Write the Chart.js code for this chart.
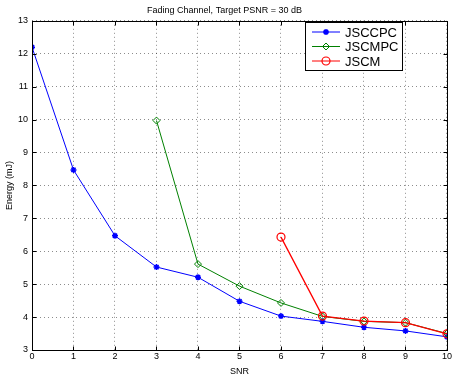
<!DOCTYPE html>
<html>
<head>
<meta charset="utf-8">
<script src="https://cdn.jsdelivr.net/npm/chart.js@4/dist/chart.umd.min.js"></script>
<style>
	body { margin: 0; background: #fff; }
	#wrap { width: 453px; height: 377px; position: relative; }
</style>
</head>
<body>
<div id="wrap"><canvas id="c"></canvas></div>
<script>
const snr = [0, 1, 2, 3, 4, 5, 6, 7, 8, 9, 10];
const jsccpc = [12.2, 8.47, 6.47, 5.52, 5.21, 4.48, 4.03, 3.87, 3.69, 3.58, 3.4];
const jscmpc = [null, null, null, 9.97, 5.61, 4.94, 4.43, 4.02, 3.87, 3.83, 3.5];
const jscm = [null, null, null, null, null, null, 6.43, 4.03, 3.88, 3.83, 3.49];

const font = 'Liberation Sans, Arial, sans-serif';

function pts(vals) {
	return snr.map((x, i) => ({ x: x, y: vals[i] }));
}

// frame round the plot area with small inward ticks, like a MATLAB axes box
const boxPlugin = {
	id: 'box',
	afterDraw(chart) {
		const a = chart.chartArea;
		const ctx = chart.ctx;
		const l = Math.round(a.left) + 0.5, r = Math.round(a.right) + 0.5;
		const t = Math.round(a.top) + 0.5, b = Math.round(a.bottom) + 0.5;
		ctx.save();
		ctx.strokeStyle = '#000';
		ctx.lineWidth = 1;
		ctx.strokeRect(l, t, r - l, b - t);
		ctx.beginPath();
		chart.scales.x.ticks.forEach(tk => {
			const px = Math.round(chart.scales.x.getPixelForValue(tk.value)) + 0.5;
			ctx.moveTo(px, b); ctx.lineTo(px, b - 4);
			ctx.moveTo(px, t); ctx.lineTo(px, t + 4);
		});
		chart.scales.y.ticks.forEach(tk => {
			const py = Math.round(chart.scales.y.getPixelForValue(tk.value)) + 0.5;
			ctx.moveTo(l, py); ctx.lineTo(l + 4, py);
			ctx.moveTo(r, py); ctx.lineTo(r - 4, py);
		});
		ctx.stroke();
		ctx.restore();
	}
};

// legend box in the upper right corner of the plot
const legendBox = {
	id: 'legendBox',
	afterDraw(chart) {
		const ctx = chart.ctx;
		const x0 = 305, y0 = 22, w = 97, h = 48;
		ctx.save();
		ctx.fillStyle = '#fff';
		ctx.fillRect(x0, y0, w, h);
		ctx.strokeStyle = '#000';
		ctx.lineWidth = 1;
		ctx.strokeRect(x0 + 0.5, y0 + 0.5, w, h);
		chart.data.datasets.forEach((ds, i) => {
			const y = y0 + 10 + i * 14.5;
			ctx.strokeStyle = ds.borderColor;
			ctx.lineWidth = 1;
			ctx.beginPath();
			ctx.moveTo(x0 + 7, y);
			ctx.lineTo(x0 + 35, y);
			ctx.stroke();
			ctx.fillStyle = ds.backgroundColor;
			ctx.lineWidth = ds.pointBorderWidth;
			Chart.helpers.drawPoint(ctx, {
				pointStyle: ds.pointStyle,
				radius: ds.pointRadius,
				borderWidth: ds.pointBorderWidth
			}, x0 + 21, y);
			ctx.fillStyle = '#000';
			ctx.font = '13px ' + font;
			ctx.textBaseline = 'middle';
			ctx.fillText(ds.label, x0 + 40, y + 1);
		});
		ctx.restore();
	}
};

new Chart(document.getElementById('c').getContext('2d'), {
	type: 'line',
	data: {
		datasets: [
			{
				label: 'JSCCPC',
				data: pts(jsccpc),
				order: 3,
				borderColor: '#0000ff',
				backgroundColor: '#0000ff',
				borderWidth: 1,
				pointStyle: 'star',
				pointRadius: 3,
				pointBorderWidth: 1.5,
			},
			{
				label: 'JSCMPC',
				data: pts(jscmpc),
				order: 2,
				borderColor: '#008000',
				backgroundColor: 'rgba(0,0,0,0)',
				borderWidth: 1,
				pointStyle: 'rectRot',
				pointRadius: 3.5,
				pointBorderWidth: 1,
			},
			{
				label: 'JSCM',
				data: pts(jscm),
				order: 1,
				borderColor: '#ff0000',
				backgroundColor: 'rgba(0,0,0,0)',
				borderWidth: 1.3,
				pointStyle: 'circle',
				pointRadius: 4,
				pointBorderWidth: 1.2,
			},
		],
	},
	options: {
		responsive: true,
		maintainAspectRatio: false,
		animation: false,
		layout: { padding: { left: 0, right: 4, top: 0, bottom: 0 } },
		scales: {
			x: {
				type: 'linear',
				min: 0,
				max: 10,
				afterFit(scale) { scale.height = 27; },
				ticks: { stepSize: 1, color: '#000', font: { family: font, size: 9 }, padding: 1 },
				grid: { color: 'rgba(0,0,0,0.45)', drawTicks: false },
				border: { display: false, dash: [1, 3] },
				title: { display: true, text: 'SNR', color: '#000', font: { family: font, size: 9 }, padding: 0 },
			},
			y: {
				min: 3,
				max: 13,
				afterFit(scale) { scale.width = 32; },
				ticks: { stepSize: 1, color: '#000', font: { family: font, size: 9 }, padding: 4 },
				grid: { color: 'rgba(0,0,0,0.45)', drawTicks: false },
				border: { display: false, dash: [1, 3] },
				title: { display: true, text: 'Energy (mJ)', color: '#000', font: { family: font, size: 9 }, padding: { top: 4, bottom: 0 } },
			},
		},
		plugins: {
			title: {
				display: true,
				text: 'Fading Channel, Target PSNR = 30 dB',
				color: '#000',
				font: { family: font, size: 9, weight: 'normal' },
				padding: { top: 5, bottom: 5 },
			},
			legend: { display: false },
			tooltip: { enabled: false },
		},
	},
	plugins: [boxPlugin, legendBox],
});
</script>
</body>
</html>
